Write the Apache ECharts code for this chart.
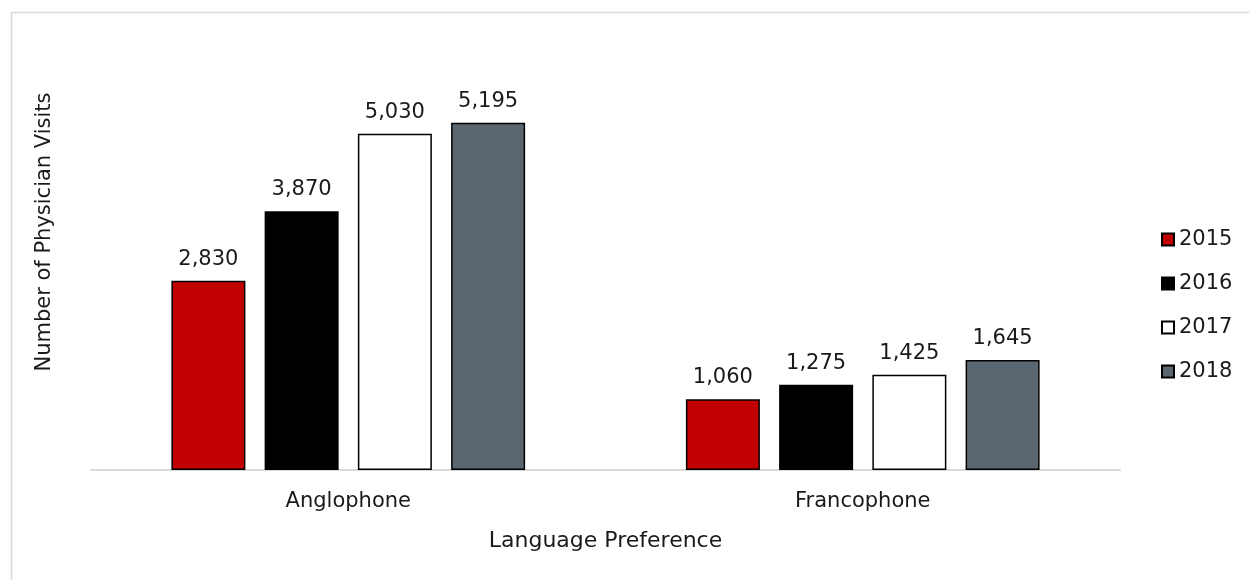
<!DOCTYPE html>
<html style="height: 100%">
<head>
    <meta charset="utf-8">
</head>
<body style="height: 100%; margin: 0; background: #fff">
<div id="container" style="width: 1249px; height: 580px"></div>
<script src="https://cdn.jsdelivr.net/npm/echarts@6/dist/echarts.min.js"></script>
<script>
var categories = ['Anglophone', 'Francophone'];
var years = ['2015', '2016', '2017', '2018'];
var visits2015 = [2830, 1060];
var visits2016 = [3870, 1275];
var visits2017 = [5030, 1425];
var visits2018 = [5195, 1645];
var colors = ['#c00000', '#000000', '#ffffff', '#5b6770'];

var font = '"DejaVu Sans", sans-serif';
var allData = [visits2015, visits2016, visits2017, visits2018];

var chart = echarts.init(document.getElementById('container'));

var series = years.map(function (y, i) {
    return {
        name: y,
        type: 'bar',
        data: allData[i],
        barWidth: 74,
        barGap: '26%',
        itemStyle: {
            color: colors[i],
            borderColor: '#000',
            borderWidth: 1.5
        },
        label: {
            show: true,
            position: 'top',
            distance: 11,
            color: '#1a1a1a',
            fontFamily: font,
            fontSize: 21,
            formatter: function (p) {
                return p.value.toLocaleString('en-US');
            }
        }
    };
});

var option = {
    backgroundColor: '#fff',
    animation: false,
    grid: {
        left: 91,
        right: 129,
        top: 69,
        bottom: 110
    },
    legend: {
        orient: 'vertical',
        left: 1156,
        top: 224,
        itemWidth: 12,
        itemHeight: 12,
        itemGap: 23,
        icon: 'rect',
        data: years,
        textStyle: {
            color: '#1a1a1a',
            fontFamily: font,
            fontSize: 21
        }
    },
    xAxis: {
        type: 'category',
        data: categories,
        name: 'Language Preference',
        nameLocation: 'middle',
        nameGap: 60,
        nameTextStyle: {
            color: '#1a1a1a',
            fontFamily: font,
            fontSize: 22
        },
        axisLine: { lineStyle: { color: '#d9d9d9', width: 2 } },
        axisTick: { show: false },
        axisLabel: {
            color: '#1a1a1a',
            fontFamily: font,
            fontSize: 21,
            margin: 21
        }
    },
    yAxis: {
        type: 'value',
        min: 0,
        max: 6000,
        show: false
    },
    graphic: [
        {
            type: 'rect',
            shape: { x: 11.5, y: 12.5, width: 1260, height: 600 },
            style: { fill: 'none', stroke: '#d9d9d9', lineWidth: 1.5 },
            silent: true
        },
        {
            type: 'text',
            x: 45,
            y: 232,
            rotation: Math.PI / 2,
            style: {
                text: 'Number of Physician Visits',
                fill: '#1a1a1a',
                font: '21px ' + font,
                align: 'center',
                verticalAlign: 'middle'
            }
        }
    ],
    series: series
};

chart.setOption(option);
</script>
</body>
</html>
